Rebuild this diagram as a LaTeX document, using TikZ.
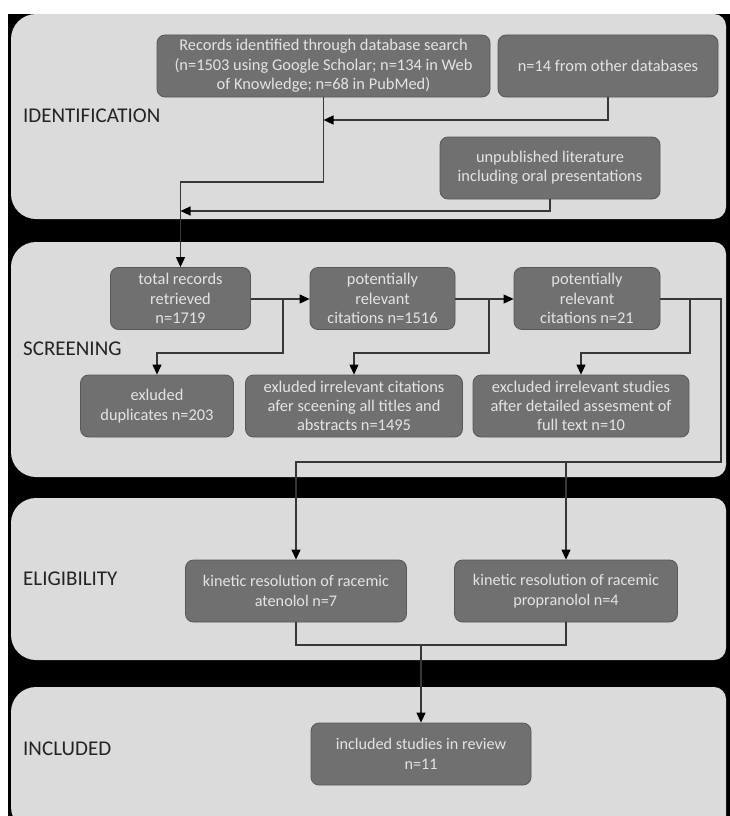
\documentclass[tikz,border=0pt]{standalone}
\usepackage{fontspec}
\setmainfont{Carlito}
\usetikzlibrary{arrows.meta}
\definecolor{panelgray}{RGB}{219,219,219}
\definecolor{boxgray}{RGB}{112,112,112}
\definecolor{boxedge}{RGB}{88,88,88}
\definecolor{boxtext}{RGB}{228,228,228}
\definecolor{linegray}{RGB}{55,55,55}
\definecolor{labelgray}{RGB}{35,35,35}
\tikzset{
  panel/.style={fill=panelgray, draw=none},
  stagebox/.style={draw=boxedge, line width=0.8pt, fill=boxgray, rounded corners=8pt,
    inner sep=0pt, align=center, text=boxtext,
    font=\fontsize{16.4}{19.3}\selectfont},
  smallbox/.style={stagebox, font=\fontsize{16.2}{20.6}\selectfont},
  stagelabel/.style={anchor=west, inner sep=0pt, text=labelgray,
    font=\fontsize{21}{24}\selectfont},
  flow/.style={draw=linegray, line width=1.1pt},
  flowarrow/.style={flow, -{Triangle[length=10pt,width=9pt,color=black]}}
}
\begin{document}
\begin{tikzpicture}[x=1pt,y=-1pt]
\useasboundingbox (0,0) rectangle (730,816);
\clip (0,0) rectangle (730,816);
% white page with a black backdrop behind the stage panels
\fill[white] (0,0) rectangle (730,816);
\fill[black] (8,14) rectangle (730,830);

% stage panels
\path[panel] (11,14) [rounded corners=25pt] -- (11,219) [rounded corners=12pt] -- (726,219) -- (726,14) [rounded corners=25pt] -- cycle;
\path[panel] (11,242) [rounded corners=25pt] -- (11,477) [rounded corners=12pt] -- (726,477) -- (726,242) [rounded corners=25pt] -- cycle;
\path[panel] (11,498) [rounded corners=25pt] -- (11,660) [rounded corners=12pt] -- (726,660) -- (726,498) [rounded corners=25pt] -- cycle;
\path[panel] (11,687) [rounded corners=25pt] -- (11,832) [rounded corners=12pt] -- (726,832) -- (726,687) [rounded corners=25pt] -- cycle;

% stage labels
\node[stagelabel] (lid) at (23,116) {IDENTIFICATION};
\node[stagelabel] (lsc) at (23,349) {SCREENING};
\node[stagelabel] (lel) at (23,579) {ELIGIBILITY};
\node[stagelabel] (lin) at (23,749) {INCLUDED};

% identification
\node[stagebox, minimum width=333pt, minimum height=62pt] (A) at (323.5,66)
  {Records identified through database search\\(n=1503 using Google Scholar; n=134 in Web\\of Knowledge; n=68 in PubMed)};
\node[stagebox, minimum width=220pt, minimum height=62pt] (B) at (608,66)
  {n=14 from other databases};
\node[stagebox, minimum width=220pt, minimum height=62pt] (C) at (550,168)
  {unpublished literature\\including oral presentations};

% screening
\node[stagebox, minimum width=140pt, minimum height=62pt] (D) at (180.5,298.5)
  {total records\\retrieved\\n=1719};
\node[stagebox, minimum width=145pt, minimum height=62pt] (E) at (382.5,298.5)
  {potentially\\relevant\\citations n=1516};
\node[stagebox, minimum width=146pt, minimum height=62pt] (F) at (587,298.5)
  {potentially\\relevant\\citations n=21};
\node[stagebox, minimum width=153pt, minimum height=62pt] (G) at (157,406)
  {exluded\\duplicates n=203};
\node[stagebox, minimum width=217pt, minimum height=62pt] (H) at (354,406)
  {exluded irrelevant citations\\afer sceening all titles and\\abstracts n=1495};
\node[stagebox, minimum width=216pt, minimum height=62pt] (I) at (581,406)
  {excluded irrelevant studies\\after detailed assesment of\\full text n=10};

% eligibility
\node[smallbox, minimum width=221pt, minimum height=62pt] (J) at (296,591)
  {kinetic resolution of racemic\\atenolol n=7};
\node[smallbox, minimum width=223pt, minimum height=62pt] (K) at (566,591)
  {kinetic resolution of racemic\\propranolol n=4};

% included
\node[smallbox, minimum width=220pt, minimum height=62pt] (L) at (421,754)
  {included studies in review\\n=11};

% junction points of the connectors
\coordinate (a1) at (323.5,182);
\coordinate (b1) at (323.5,120);
\coordinate (c1) at (180.5,211);
\coordinate (d1) at (283,299);
\coordinate (d2) at (283,353);
\coordinate (e1) at (489,299);
\coordinate (e2) at (489,353);
\coordinate (f1) at (690,299);
\coordinate (f2) at (690,353);
\coordinate (r1) at (721,299);
\coordinate (r2) at (721,462);
\coordinate (k1) at (566,462);
\coordinate (m1) at (296,645);
\coordinate (m2) at (566,645);
\coordinate (m3) at (421,645);

% identification flow
\draw[flowarrow] (A.south) -- (a1) -| (D.north);
\draw[flowarrow] (B.south) |- (b1);
\draw[flowarrow] (C.south) |- (c1);

% screening flow
\draw[flowarrow] (D.east |- d1) -- (E.west |- d1);
\draw[flowarrow] (d1) -- (d2) -| (G.north);
\draw[flowarrow] (E.east |- e1) -- (F.west |- e1);
\draw[flowarrow] (e1) -- (e2) -| (H.north);
\draw[flowarrow] (f1) -- (f2) -| (I.north);
\draw[flowarrow] (F.east |- r1) -- (r1) -- (r2) -| (J.north);
\draw[flowarrow] (k1) -- (K.north);

% eligibility to included
\draw[flow] (J.south) -- (m1) -- (m2) -- (K.south);
\draw[flowarrow] (m3) -- (L.north);
\end{tikzpicture}
\end{document}
